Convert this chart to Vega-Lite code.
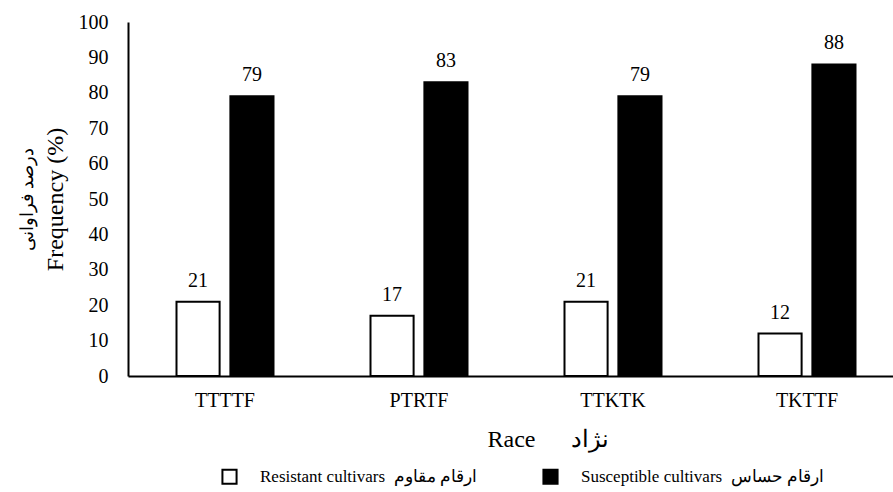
{
  "$schema": "https://vega.github.io/schema/vega-lite/v6.json",
  "autosize": "none",
  "width": 765,
  "height": 354,
  "padding": {"left": 128, "top": 22, "right": 0, "bottom": 116},
  "background": "white",
  "config": {"view": {"stroke": null}, "font": "Liberation Serif", "axis": {"labelOverlap": false}},
  "data": {
    "values": [
      {"race": "TTTTF", "type": "Resistant cultivars\u00a0\u00a0ارقام مقاوم", "value": 21},
      {"race": "TTTTF", "type": "Susceptible cultivars\u00a0\u00a0ارقام حساس", "value": 79},
      {"race": "PTRTF", "type": "Resistant cultivars\u00a0\u00a0ارقام مقاوم", "value": 17},
      {"race": "PTRTF", "type": "Susceptible cultivars\u00a0\u00a0ارقام حساس", "value": 83},
      {"race": "TTKTK", "type": "Resistant cultivars\u00a0\u00a0ارقام مقاوم", "value": 21},
      {"race": "TTKTK", "type": "Susceptible cultivars\u00a0\u00a0ارقام حساس", "value": 79},
      {"race": "TKTTF", "type": "Resistant cultivars\u00a0\u00a0ارقام مقاوم", "value": 12},
      {"race": "TKTTF", "type": "Susceptible cultivars\u00a0\u00a0ارقام حساس", "value": 88}
    ]
  },
  "layer": [
    {
      "encoding": {
        "x": {
          "field": "race", "type": "nominal",
          "sort": ["TTTTF", "PTRTF", "TTKTK", "TKTTF"],
          "scale": {"range": [0, 776], "paddingInner": 0.5, "paddingOuter": 0.25},
          "axis": {
            "title": "Race\u00a0\u00a0\u00a0\u00a0\u00a0\u00a0نژاد",
            "titleFont": "Liberation Serif", "titleFontSize": 24, "titleFontWeight": "normal", "titleColor": "black",
            "titleX": 420, "titleY": 70, "titleBaseline": "alphabetic",
            "labelFont": "Liberation Serif", "labelFontSize": 20, "labelColor": "black", "labelPadding": 14, "labelAngle": 0,
            "ticks": false, "domainColor": "black", "domainWidth": 2, "grid": false
          }
        },
        "xOffset": {
          "field": "type", "type": "nominal",
          "sort": ["Resistant cultivars\u00a0\u00a0ارقام مقاوم", "Susceptible cultivars\u00a0\u00a0ارقام حساس"],
          "scale": {"paddingInner": 0.2, "paddingOuter": 0}
        },
        "y": {
          "field": "value", "type": "quantitative",
          "scale": {"domain": [0, 100], "nice": false},
          "axis": {
            "title": "Frequency (%)",
            "titleFont": "Liberation Serif", "titleFontSize": 24, "titleFontWeight": "normal", "titleColor": "black",
            "titleX": -61, "titleY": 177,
            "values": [0, 10, 20, 30, 40, 50, 60, 70, 80, 90, 100],
            "labelOverlap": false,
            "labelFont": "Liberation Serif", "labelFontSize": 20, "labelColor": "black", "labelPadding": 20,
            "ticks": false, "domainColor": "black", "domainWidth": 2, "grid": false
          }
        }
      },
      "layer": [
        {
          "mark": {"type": "bar", "stroke": "black", "strokeWidth": 2},
          "encoding": {
            "fill": {
              "field": "type", "type": "nominal",
              "scale": {
                "domain": ["Resistant cultivars\u00a0\u00a0ارقام مقاوم", "Susceptible cultivars\u00a0\u00a0ارقام حساس"],
                "range": ["white", "black"]
              },
              "legend": {
                "orient": "none", "legendX": 93, "legendY": 446, "direction": "horizontal",
                "title": null, "padding": 0,
                "symbolType": "square", "symbolSize": 200, "symbolStrokeColor": "black", "symbolStrokeWidth": 2,
                "labelFont": "Liberation Serif", "labelFontSize": 17, "labelColor": "black", "labelOffset": 22,
                "columnPadding": 62, "labelLimit": 400
              }
            }
          }
        },
        {
          "mark": {"type": "text", "dy": -15, "baseline": "alphabetic", "fontSize": 20, "font": "Liberation Serif", "color": "black"},
          "encoding": {
            "text": {"field": "value", "type": "quantitative"}
          }
        }
      ]
    },
    {
      "mark": {"type": "point", "opacity": 0},
      "encoding": {
        "x": {"field": "race", "type": "nominal", "sort": ["TTTTF", "PTRTF", "TTKTK", "TKTTF"]},
        "y": {
          "field": "value", "type": "quantitative",
          "scale": {"domain": [0, 100]},
          "axis": {
            "orient": "left",
            "title": "درصد فراوانی",
            "titleFontSize": 18, "titleFontWeight": "normal", "titleColor": "black",
            "titleX": -92, "titleY": 177,
            "labels": false, "ticks": false, "domain": false, "grid": false
          }
        }
      }
    }
  ],
  "resolve": {"scale": {"y": "independent"}, "axis": {"y": "independent"}}
}
